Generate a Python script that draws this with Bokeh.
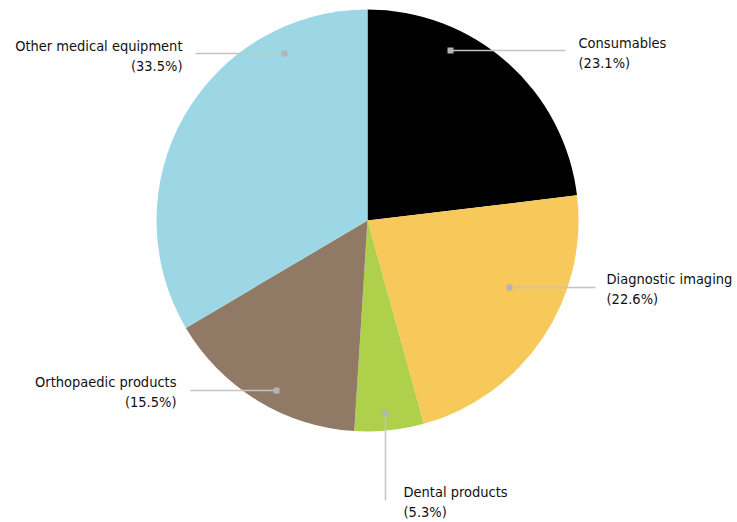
import math
from bokeh.plotting import figure
from bokeh.models import Range1d, ColumnDataSource
from bokeh.core.properties import value
from bokeh.embed import file_html
from bokeh.resources import INLINE

categories = ["Consumables", "Diagnostic imaging", "Dental products", "Orthopaedic products", "Other medical equipment"]
shares = [23.1, 22.6, 5.3, 15.5, 33.5]
colors = ["#000000", "#F7C95A", "#AED04A", "#907A66", "#9DD7E6"]

W, H = 737, 522
CX, CY, R = 367, H - 220, 211

# label layout (px, y down): marker x,y ; line end x,y ; text x ; text top-line y ; align
layout = [
    (450, 50, 565, 50, 578, 42, "left"),
    (509, 287, 595, 287, 606, 278, "left"),
    (385, 413, 385, 500, 403, 491, "left"),
    (276, 390, 190, 390, 176, 381, "right"),
    (284, 53, 195, 53, 182, 45, "right"),
]

p = figure(width=W, height=H, output_backend="svg", toolbar_location=None,
           x_range=Range1d(0, W), y_range=Range1d(0, H), min_border=0)
p.axis.visible = False
p.grid.visible = False
p.outline_line_color = None
p.background_fill_color = "white"

total = sum(shares)
cum = 0.0
starts, ends = [], []
for s in shares:
    a0 = math.pi / 2 - 2 * math.pi * (cum + s) / total
    a1 = math.pi / 2 - 2 * math.pi * cum / total
    starts.append(a0)
    ends.append(a1)
    cum += s

src = ColumnDataSource(dict(start=starts, end=ends, color=colors))
p.wedge(x=CX, y=CY, radius=R, start_angle="start", end_angle="end",
        fill_color="color", line_color=None, source=src)

font = value("DejaVu Sans Condensed")
for cat, s, (mx, my, lx, ly, tx, ty, al) in zip(categories, shares, layout):
    p.line([mx, lx], [H - my, H - ly], line_color="#c4c4c4", line_width=1.5)
    p.scatter([mx], [H - my], marker="square", size=6, fill_color="#b4b4b4", line_color=None)
    p.text([tx], [H - ty], text=[cat], text_font=font, text_font_size="14.5px",
           text_color="#111111", text_align=al, text_baseline="middle")
    p.text([tx], [H - ty - 20], text=[f"({s}%)"], text_font=font, text_font_size="14.5px",
           text_color="#111111", text_align=al, text_baseline="middle")

open("out.html", "w").write(file_html(p, INLINE))
